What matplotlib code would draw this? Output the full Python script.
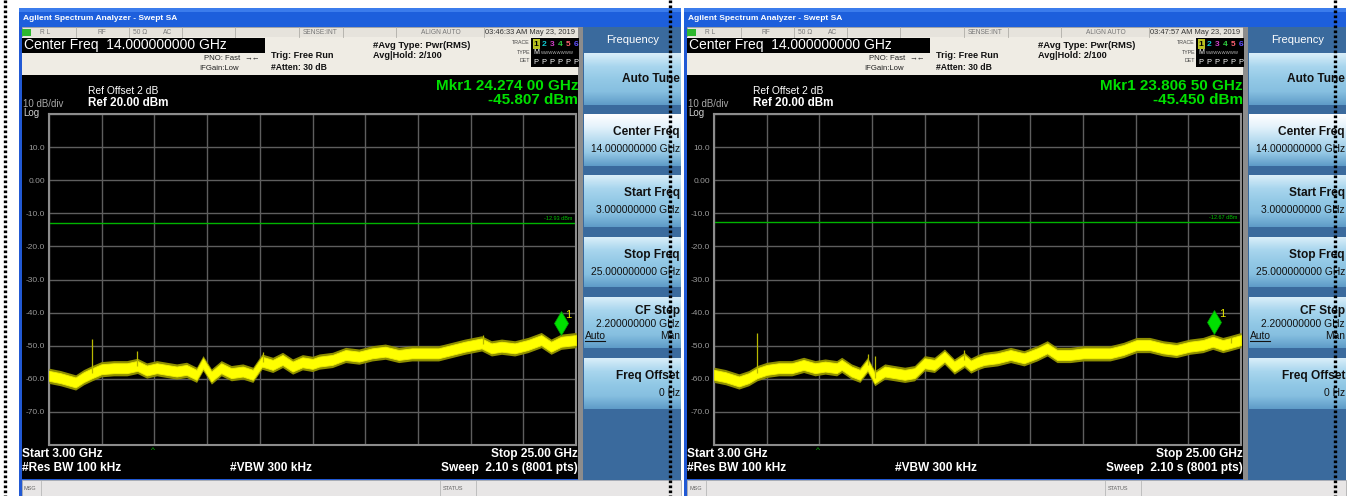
import numpy as np
import matplotlib.pyplot as plt
from matplotlib.patches import Rectangle
from matplotlib.colors import LinearSegmentedColormap
from matplotlib import transforms

plt.rcParams['font.family'] = ['Liberation Sans', 'DejaVu Sans']

W, H = 1354, 496

# =============================================================================
# Data
# =============================================================================
span_ghz = [3.0, 25.0]
level_range = [-80.0, 20.0]
ytick_vals = [20, 10, 0, -10, -20, -30, -40, -50, -60, -70, -80]
ytick_labels = ['', '10.0', '0.00', '-10.0', '-20.0', '-30.0', '-40.0',
                '-50.0', '-60.0', '-70.0', '']

# left screen (03:46:33)
freq_a = [3.00, 3.48, 4.11, 4.45, 4.80, 5.19, 5.70, 6.25, 6.69, 7.08, 7.50,
          7.91, 8.33, 8.74, 9.16, 9.43, 9.78, 10.19, 10.61, 11.09, 11.51,
          11.89, 12.34, 12.75, 13.17, 13.58, 14.00, 14.28, 14.83, 15.38,
          15.94, 16.49, 17.04, 17.60, 18.15, 18.70, 19.26, 19.81, 20.36,
          21.06, 21.47, 21.89, 22.44, 22.99, 23.55, 23.96, 24.38, 25.00]
level_a = [-59.1, -59.8, -61.1, -59.5, -58.3, -57.1, -56.8, -56.8, -56.1,
           -57.5, -56.8, -57.3, -57.8, -57.3, -58.8, -55.3, -59.3, -56.8,
           -58.3, -57.8, -58.8, -54.8, -55.8, -54.3, -56.3, -55.0, -55.5,
           -54.8, -54.3, -52.8, -53.3, -52.3, -51.8, -52.8, -52.3, -52.3,
           -52.3, -51.3, -50.3, -49.3, -50.8, -50.3, -50.8, -49.8, -48.3,
           -50.3, -48.8, -48.3]
spike_freq_a = [4.80, 6.69, 11.95, 21.1]
spike_top_a = [-48.1, -51.6, -52.0, -46.8]
mkr_a = (24.274, -45.807)
dline_a = -12.93
time_a = '03:46:33 AM May 23, 2019'

# right screen (03:47:57)
freq_b = [3.00, 3.48, 4.04, 4.45, 4.80, 5.21, 5.70, 6.25, 6.74, 7.22, 7.64,
          8.12, 8.33, 8.74, 9.09, 9.41, 9.71, 10.13, 10.54, 10.96, 11.37,
          11.79, 12.20, 12.62, 13.03, 13.45, 13.72, 14.00, 14.28, 14.83,
          15.38, 15.94, 16.49, 16.91, 17.32, 17.87, 18.43, 18.98, 19.53,
          20.09, 20.64, 21.19, 21.75, 22.30, 22.86, 23.41, 23.82, 24.24,
          24.51, 25.00]
level_b = [-58.8, -59.5, -60.8, -59.8, -58.3, -57.3, -56.8, -56.8, -55.8,
           -56.8, -56.3, -56.8, -55.8, -57.8, -58.8, -55.8, -59.8, -57.8,
           -58.3, -58.8, -58.3, -55.3, -55.8, -53.3, -56.3, -54.3, -56.0,
           -55.0, -54.3, -53.8, -52.8, -53.8, -52.3, -50.8, -52.8, -52.8,
           -52.3, -52.3, -52.3, -51.3, -49.8, -49.8, -50.8, -51.3, -50.3,
           -49.8, -48.8, -49.8, -49.3, -48.3]
spike_freq_b = [4.80, 9.41, 9.71, 13.45, 24.6]
spike_top_b = [-46.3, -52.6, -53.0, -51.3, -47.3]
mkr_b = (23.8065, -45.450)
dline_b = -12.67
time_b = '03:47:57 AM May 23, 2019'

bottom_tick_ghz = 7.34  # green caret under the graticule

softkey_titles = ['Auto Tune', 'Center Freq', 'Start Freq', 'Stop Freq',
                  'CF Step', 'Freq Offset']
softkey_values = ['', '14.000000000 GHz', '3.000000000 GHz',
                  '25.000000000 GHz', '2.200000000 GHz', '0 Hz']

# =============================================================================
# Figure
# =============================================================================
fig = plt.figure(figsize=(W / 100, H / 100), dpi=100)
bg = fig.add_axes([0, 0, 1, 1])
bg.set_xlim(0, W)
bg.set_ylim(H, 0)
bg.axis('off')

btn_cmap = LinearSegmentedColormap.from_list(
    'btn', ['#d9eef9', '#a9d6ee', '#93c9e6', '#86bfe0', '#5f9cc8'])
sel_cmap = LinearSegmentedColormap.from_list(
    'sel', ['#ffffff', '#e3f2fb', '#b8dcf0', '#95c8e5', '#5f9cc8'])
grad = np.linspace(0, 1, 64).reshape(-1, 1)


def rect(x1, y1, x2, y2, color, z, ec='none', lw=0):
    bg.add_patch(Rectangle((x1, y1), x2 - x1, y2 - y1, facecolor=color,
                           edgecolor=ec, lw=lw, zorder=z))


def draw_screen(x0, freqs, levels, spike_f, spike_top, mkr, dline, stamp):
    z = 10 if x0 == 0 else 20
    tz = z + 2

    def t(x, y, s, **kw):
        kw.setdefault('va', 'center')
        bg.text(x0 + x, y, s, zorder=tz, **kw)

    # window frame and title bar
    rect(x0 + 19, 8, x0 + 681, 496, '#2159d4', z)
    rect(x0 + 19, 8, x0 + 681, 27, '#1d5fdc', z)
    rect(x0 + 19, 8, x0 + 681, 12, '#3b7cec', z)
    t(23, 18, 'Agilent Spectrum Analyzer - Swept SA', color='white',
      fontsize=6, fontweight='bold')

    # status row
    rect(x0 + 22, 27, x0 + 578, 37, '#e6e3dc', z, ec='#a8a6a0', lw=0.6)
    for dx in [76, 129, 182, 235, 299, 343, 396, 484]:
        bg.plot([x0 + dx, x0 + dx], [27, 37], color='#b0aea8', lw=0.6,
                zorder=z + 1)
    rect(x0 + 22, 28.5, x0 + 31, 35.5, '#2eb82e', z + 1)
    for dx, s in [(40, 'R L'), (97, 'RF'), (133, '50 Ω'), (163, 'AC'),
                  (303, 'SENSE:INT'), (421, 'ALIGN AUTO')]:
        t(dx, 32, s, color='#777777', fontsize=4.8)
    t(485, 32, stamp, color='#333333', fontsize=5.4)

    # info area
    rect(x0 + 22, 37, x0 + 578, 75, '#efece4', z)
    rect(x0 + 22, 38, x0 + 265, 53, 'black', z + 1)
    t(24, 45.5, 'Center Freq  14.000000000 GHz', color='white', fontsize=10)
    t(240, 58.5, 'PNO: Fast', color='#222222', fontsize=5.6, ha='right')
    t(244, 58.5, '→←', color='#222222', fontsize=5.6)
    t(199, 68, 'IFGain:Low', color='#222222', fontsize=5.6)
    t(271, 56, 'Trig: Free Run', color='#111111', fontsize=6.6,
      fontweight='bold')
    t(271, 67, '#Atten: 30 dB', color='#111111', fontsize=6.2,
      fontweight='bold')
    t(373, 45, '#Avg Type: Pwr(RMS)', color='#111111', fontsize=6.8,
      fontweight='bold')
    t(373, 56, 'Avg|Hold: 2/100', color='#111111', fontsize=6.6,
      fontweight='bold')
    for dy, s in [(43, 'TRACE'), (52, 'TYPE'), (61, 'DET')]:
        t(530, dy, s, color='#444444', fontsize=3.8, ha='right')
    rect(x0 + 531, 38, x0 + 579, 67, 'black', z + 1)
    rect(x0 + 532.5, 39, x0 + 539.5, 48.5, '#b8c020', z + 1)
    digit_colors = ['black', '#10c8d0', '#d040c8', '#30d040', '#ff6070',
                    '#6050ff']
    for i, c in enumerate(digit_colors):
        t(536 + i * 8, 44, str(i + 1), color=c, fontsize=6,
          fontweight='bold', ha='center')
        t(536 + i * 8, 62, 'P', color='white', fontsize=5.4, ha='center')
    t(536, 53, 'M', color='white', fontsize=5, ha='center')
    t(541, 53, 'WWWWWWWW', color='#bbbbbb', fontsize=3.2)

    # display
    rect(x0 + 22, 75, x0 + 578, 479, 'black', z)
    rect(x0 + 578, 27, x0 + 583, 480, '#8c8c8c', z)
    t(88, 91, 'Ref Offset 2 dB', color='white', fontsize=7.4)
    t(88, 103.5, 'Ref 20.00 dBm', color='white', fontsize=8.4,
      fontweight='bold')
    t(23, 104, '10 dB/div', color='#a8a8a8', fontsize=7)
    t(23, 112.5, 'Log', color='#d0d0d0', fontsize=7)
    t(578, 86, 'Mkr1 %s GHz' % ('%.3f %s' % (mkr[0] // 0.001 / 1000,
                                             '%02d' % round(mkr[0] * 1e5 % 100))),
      color='#00e000', fontsize=11, fontweight='bold', ha='right')
    t(578, 100.5, '%.3f dBm' % mkr[1], color='#00e000', fontsize=11,
      fontweight='bold', ha='right')
    t(22, 454, 'Start 3.00 GHz', color='white', fontsize=8.6,
      fontweight='bold')
    t(22, 468, '#Res BW 100 kHz', color='white', fontsize=8.6,
      fontweight='bold')
    t(230, 468, '#VBW 300 kHz', color='white', fontsize=8.6,
      fontweight='bold')
    t(578, 454, 'Stop 25.00 GHz', color='white', fontsize=8.6,
      fontweight='bold', ha='right')
    t(578, 468, 'Sweep  2.10 s (8001 pts)', color='white', fontsize=8.6,
      fontweight='bold', ha='right')

    # message / status bar
    rect(x0 + 22, 480, x0 + 681, 497, '#e8e6e6', z, ec='#b0b0b0', lw=0.6)
    for dx in [41, 440, 476]:
        bg.plot([x0 + dx, x0 + dx], [481, 496], color='#b8b8b8', lw=0.6,
                zorder=z + 1)
    t(24, 488.5, 'MSG', color='#666666', fontsize=4)
    t(443, 488.5, 'STATUS', color='#666666', fontsize=4)

    # softkeys
    rect(x0 + 583, 27, x0 + 681, 480, '#3a6a9d', z)
    t(633, 40, 'Frequency', color='white', fontsize=8, ha='center')
    spans = [(53, 105), (114, 166), (175, 227), (237, 287), (297, 348),
             (358, 409)]
    for k, (y1, y2) in enumerate(spans):
        cm = sel_cmap if k == 1 else btn_cmap
        bg.imshow(grad, cmap=cm, aspect='auto', origin='upper',
                  extent=(x0 + 584, x0 + 681, y2, y1), zorder=z + 1)
        title, val = softkey_titles[k], softkey_values[k]
        if not val:
            t(680, y1 + 26, title, color='#111111', fontsize=8.6,
              fontweight='bold', ha='right')
        elif k == 4:
            t(680, y1 + 14, title, color='#111111', fontsize=8.6,
              fontweight='bold', ha='right')
            t(680, y1 + 27, val, color='#111111', fontsize=7.4, ha='right')
            t(585, y1 + 39, 'Auto', color='#111111', fontsize=7.4)
            bg.plot([x0 + 585, x0 + 605], [y1 + 44, y1 + 44],
                    color='#111111', lw=0.8, zorder=tz)
            t(680, y1 + 39, 'Man', color='#111111', fontsize=7.4, ha='right')
        else:
            t(680, y1 + 18, title, color='#111111', fontsize=8.6,
              fontweight='bold', ha='right')
            t(680, y1 + 35, val, color='#111111', fontsize=7.4, ha='right')

    # graticule
    ax = fig.add_axes([(x0 + 49) / W, 1 - 445 / H, 527 / W, 331 / H])
    ax.set_facecolor('black')
    ax.set_xlim(*span_ghz)
    ax.set_ylim(*level_range)
    ax.set_xticks(np.linspace(span_ghz[0], span_ghz[1], 11))
    ax.set_xticklabels([])
    ax.set_yticks(ytick_vals)
    ax.set_yticklabels(ytick_labels)
    ax.tick_params(length=0, colors='#9a9a9a', labelsize=6, pad=3)
    ax.grid(color='#5e5e5e', lw=1)
    ax.set_axisbelow(True)
    for sp in ax.spines.values():
        sp.set_color('#8c8c8c')
        sp.set_linewidth(1.5)

    ax.axhline(dline, color='#00b400', lw=1)
    ax.text(24.85, dline + 0.6, '%.2f dBm' % dline, color='#00c000',
            fontsize=4, ha='right', va='bottom')

    # trace: olive fringe + bright yellow core
    lv = np.array(levels)
    ax.fill_between(freqs, lv - 2.3, lv + 2.3, color='#8f8f00', lw=0,
                    zorder=3)
    ax.fill_between(freqs, lv - 1.5, lv + 1.5, color='#ffff00',
                    edgecolor='#f0f000', lw=0.6, zorder=3)
    base = np.interp(spike_f, freqs, levels)
    ax.vlines(spike_f, base, spike_top, color='#b8b800', lw=0.9, zorder=3)

    mk = transforms.offset_copy(ax.transData, fig=fig, x=2, y=9, units='dots')
    ax.plot(mkr[0], mkr[1], marker='d', ms=12, color='#00e000', mec='#00a000',
            mew=0.5, transform=mk, clip_on=False, zorder=5)
    lb = transforms.offset_copy(ax.transData, fig=fig, x=10, y=17,
                                units='dots')
    ax.text(mkr[0], mkr[1], '1', transform=lb, color='#e8e800', fontsize=8,
            ha='center', va='center', zorder=5)
    cr = transforms.offset_copy(ax.transData, fig=fig, x=0, y=-5,
                                units='dots')
    ax.text(bottom_tick_ghz, level_range[0], '^', transform=cr,
            color='#00c000', fontsize=6, ha='center', va='center',
            clip_on=False)


draw_screen(0, freq_a, level_a, spike_freq_a, spike_top_a, mkr_a, dline_a,
            time_a)
draw_screen(665, freq_b, level_b, spike_freq_b, spike_top_b, mkr_b, dline_b,
            time_b)
bg.set_xlim(0, W)
bg.set_ylim(H, 0)

# dotted separators
for xd in [5, 670, 1335]:
    bg.plot([xd, xd], [0, H], color='black', lw=2.4, ls=(0, (0.8, 0.7)),
            zorder=100)

fig.savefig('out.png', dpi=100)
